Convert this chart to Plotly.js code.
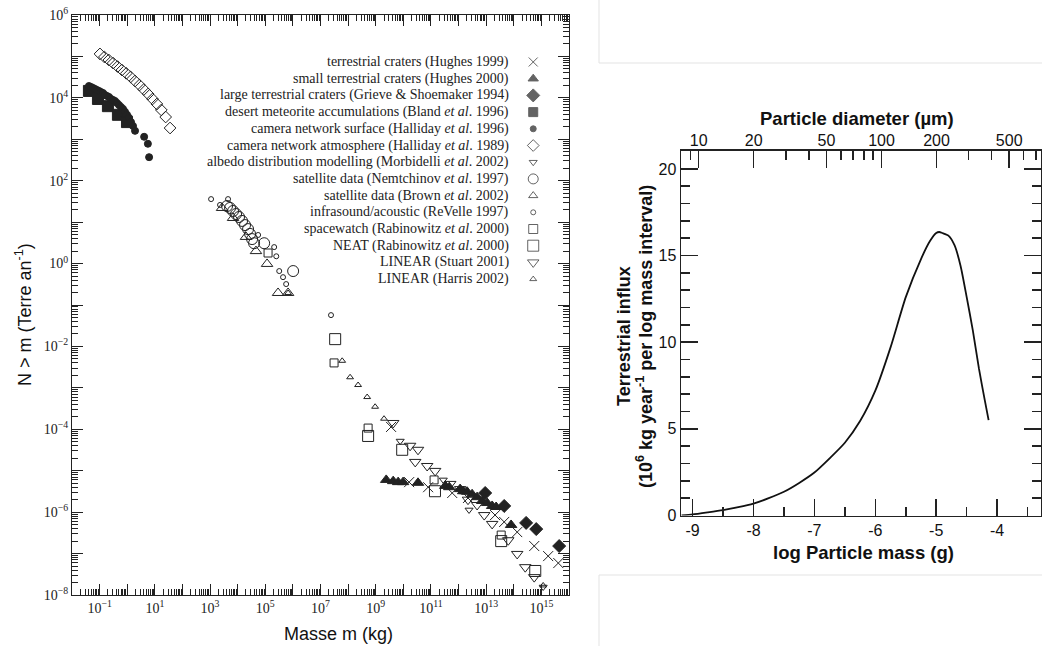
<!DOCTYPE html>
<html><head><meta charset="utf-8">
<script src="https://cdn.plot.ly/plotly-3.0.1.min.js"></script>
<style>html,body{margin:0;padding:0;background:#fff}</style>
</head><body><div id="chart" style="width:1042px;height:646px"></div>
<script>
// ---------- LEFT PANEL DATA (mass in kg, N > m per year) ----------
const hughes1999X = [3.6e9, 1.62e10, 7.9e10, 5.9e11, 2.2e12, 2.1e13, 4.5e13, 1.33e14, 5.5e14, 1.76e15, 4.1e15];
const hughes1999Y = [1.14e-4, 5.3e-6, 4.0e-6, 2.9e-6, 2.2e-6, 8.5e-7, 5.8e-7, 3.3e-7, 1.52e-7, 8.7e-8, 5.9e-8];

const hughes2000X = [2.4e9, 4.3e9, 6.5e9, 9.8e9, 3.4e10, 3.3e11, 4.6e11, 1.14e12, 1.47e12, 2.05e12, 3.1e12, 4.7e12, 7.2e12, 1.09e13, 1.65e13, 2.3e13, 8.0e13];
const hughes2000Y = [6.0e-6, 5.6e-6, 5.3e-6, 5.3e-6, 5.1e-6, 4.3e-6, 4.0e-6, 3.6e-6, 3.2e-6, 3.1e-6, 2.7e-6, 2.3e-6, 1.86e-6, 1.66e-6, 1.41e-6, 1.33e-6, 4.9e-7];

const grieveX = [9.2e12, 4.5e13, 2.8e14, 6.5e14, 4.4e15];
const grieveY = [2.9e-6, 1.41e-6, 5.5e-7, 3.9e-7, 1.52e-7];

const blandX = [0.041, 0.087, 0.20, 0.46, 0.98];
const blandY = [1.47e4, 9.4e3, 6.3e3, 3.9e3, 2.6e3];

const halliday96X = [0.041, 0.049, 0.058, 0.068, 0.080, 0.095, 0.112, 0.133, 0.157, 0.185, 0.219, 0.259, 0.306, 0.361, 0.427, 0.505, 0.596, 0.705, 0.832, 0.984, 1.16, 1.37, 1.62, 1.92, 4.1, 5.6, 6.2];
const halliday96Y = [1.93e4, 1.83e4, 1.73e4, 1.64e4, 1.55e4, 1.47e4, 1.38e4, 1.31e4, 1.17e4, 1.11e4, 1.05e4, 9.4e3, 8.9e3, 8.4e3, 7.5e3, 6.7e3, 6.0e3, 5.4e3, 4.6e3, 3.9e3, 3.3e3, 2.6e3, 2.1e3, 1.6e3, 1150, 780, 370];

const halliday89X = [0.103, 0.149, 0.215, 0.308, 0.446, 0.643, 0.927, 1.33, 1.92, 2.77, 3.99, 5.71, 8.26, 11.9, 17.2, 24.7, 35.6];
const halliday89Y = [1.15e5, 9.7e4, 8.2e4, 6.9e4, 5.7e4, 4.7e4, 3.9e4, 3.2e4, 2.55e4, 2.04e4, 1.59e4, 1.24e4, 9.4e3, 7.1e3, 5.1e3, 3.45e3, 1.87e3];

const morbidelliX = [7.7e9, 2.8e11, 2.4e12, 1.16e15];
const morbidelliY = [5.2e-5, 6.0e-6, 1.13e-6, 1.56e-8];

const nemtchinovX = [4130, 5300, 6800, 8750, 1.12e4, 1.44e4, 1.85e4, 2.38e4, 2.81e4, 3.33e4, 3.93e4, 9.1e4, 1.02e6];
const nemtchinovY = [24.5, 22, 18.6, 15.7, 13.3, 10.7, 8.5, 6.8, 5.2, 3.9, 3.1, 3.1, 0.66];

const brownX = [2720, 6800, 2.0e4, 4.6e4, 1.16e5, 2.9e5, 6.7e5];
const brownY = [22, 12.6, 4.4, 2.0, 0.98, 0.195, 0.195];

const revelleX = [1090, 4490, 2300, 5.5e4, 2.1e5, 2.5e5, 3.2e5, 4.4e5, 5.7e5, 2.4e7];
const revelleY = [36, 36, 26, 4.9, 2.5, 1.5, 0.66, 0.47, 0.32, 0.057];

const spacewatchX = [1.26e5, 3.1e7, 5.3e8, 1.3e11, 3.5e13];
const spacewatchY = [1.8, 4.0e-3, 1.07e-4, 6.0e-6, 2.8e-7];

const neatX = [3.4e7, 5.3e8, 9.1e9, 1.4e11, 3.5e13, 6.0e14];
const neatY = [1.5e-2, 6.9e-5, 3.2e-5, 3.2e-6, 2.0e-7, 3.8e-8];

const stuartX = [4.3e9, 1.76e10, 3.4e10, 2.7e10, 7.3e10, 1.42e11, 5.0e11, 1.14e12, 2.2e12, 4.7e12, 8.5e12, 1.65e13, 6.3e13, 1.33e14, 2.6e14, 5.5e14];
const stuartY = [1.42e-4, 4.0e-5, 3.2e-5, 1.63e-5, 1.30e-5, 9.9e-6, 4.8e-6, 3.6e-6, 2.0e-6, 1.49e-6, 8.5e-7, 5.2e-7, 2.1e-7, 9.8e-8, 4.7e-8, 2.7e-8];

const harrisX = [6.7e5, 6.1e7, 1.18e8, 2.3e8, 4.9e8, 9.5e8, 2.0e9, 1.16e15];
const harrisY = [0.195, 4.5e-3, 1.8e-3, 1.17e-3, 6.0e-4, 3.5e-4, 1.8e-4, 1.7e-8];

const seriesLabels = [
  "terrestrial craters (Hughes 1999)",
  "small terrestrial craters (Hughes 2000)",
  "large terrestrial craters (Grieve &amp; Shoemaker 1994)",
  "desert meteorite accumulations (Bland <i>et al</i>. 1996)",
  "camera network surface (Halliday <i>et al</i>. 1996)",
  "camera network atmosphere (Halliday <i>et al</i>. 1989)",
  "albedo distribution modelling (Morbidelli <i>et al</i>. 2002)",
  "satellite data (Nemtchinov <i>et al</i>. 1997)",
  "satellite data (Brown <i>et al</i>. 2002)",
  "infrasound/acoustic (ReVelle 1997)",
  "spacewatch (Rabinowitz <i>et al</i>. 2000)",
  "NEAT (Rabinowitz <i>et al</i>. 2000)",
  "LINEAR (Stuart 2001)",
  "LINEAR (Harris 2002)"
];
const seriesX = [hughes1999X, hughes2000X, grieveX, blandX, halliday96X, halliday89X, morbidelliX, nemtchinovX, brownX, revelleX, spacewatchX, neatX, stuartX, harrisX];
const seriesY = [hughes1999Y, hughes2000Y, grieveY, blandY, halliday96Y, halliday89Y, morbidelliY, nemtchinovY, brownY, revelleY, spacewatchY, neatY, stuartY, harrisY];

// left axis tick labels
const leftXExp = [-2,-1,0,1,2,3,4,5,6,7,8,9,10,11,12,13,14,15,16];
const leftXLabelExp = [-1,1,3,5,7,9,11,13,15];
const leftYExp = [-8,-7,-6,-5,-4,-3,-2,-1,0,1,2,3,4,5,6];
const leftYLabelExp = [-8,-6,-4,-2,0,2,4,6];

// ---------- RIGHT PANEL DATA ----------
const logMass = [-9.18,-9.0,-8.75,-8.5,-8.25,-8.0,-7.75,-7.5,-7.25,-7.0,-6.75,-6.5,-6.25,-6.0,-5.75,-5.5,-5.25,-5.1,-5.0,-4.95,-4.9,-4.8,-4.7,-4.6,-4.5,-4.4,-4.3,-4.2,-4.14];
const influx  = [0.0,0.06,0.18,0.31,0.48,0.69,1.0,1.37,1.88,2.48,3.3,4.2,5.45,7.2,9.7,12.6,14.8,15.85,16.3,16.36,16.3,16.15,15.6,14.4,12.6,10.7,8.5,6.6,5.5];
const massTicks = [-9,-8,-7,-6,-5,-4];
const massTickText = ["-9","-8","-7","-6","-5","-4"];
const diamTicks = [10,20,50,100,200,500];
const diamMinor = [9,30,40,60,70,80,90,300,400,600,700];

// ---------- STYLES ----------
const symbols = ['x-thin-open','triangle-up','diamond','square','circle','diamond-open','triangle-down-open','circle-open','triangle-up-open','circle-open','square-open','square-open','triangle-down-open','triangle-up-open'];
const sizes   = [10, 10, 10, 11, 7, 9, 7, 11, 10, 5, 8, 11, 10, 6];
const legSizes= [9, 9, 10, 9, 6, 9, 7, 10, 8, 5, 9, 11, 10, 6];
const ink = '#222';

const W = 1042, H = 646;
const L = {x0:72, x1:569, y0:15, y1:595};
const R = {x0:681, x1:1041, y0:150.7, y1:515.5};
const dx = (a,b)=>[a/W, b/W];
const dy = (top,bot)=>[(H-bot)/H, (H-top)/H];

const traces = [];
seriesX.forEach((xs, i) => {
  traces.push({
    type:'scatter', mode:'markers', x: xs, y: seriesY[i], xaxis:'x', yaxis:'y',
    name: seriesLabels[i], cliponaxis:false,
    marker:{symbol: symbols[i], size: sizes[i], color: ink, line:{width:1, color: ink}}
  });
});
// legend keys (drawn on an overlay axis, one row per series index)
traces.push({
  type:'scatter', mode:'markers', xaxis:'x3', yaxis:'y3', hoverinfo:'skip',
  x: seriesLabels.map(()=>0.928), y: seriesLabels.map((_,i)=>i),
  marker:{symbol: symbols, size: legSizes, color: ink, line:{width:1, color: ink}}
});
// right curve
traces.push({
  type:'scatter', mode:'lines', x: logMass, y: influx, xaxis:'x2', yaxis:'y2',
  line:{color:'#111', width:1.8, shape:'spline', smoothing:0.6}
});
// dummy trace to activate top diameter axis
traces.push({type:'scatter', mode:'markers', x:[diamTicks[0]], y:[0], xaxis:'x4', yaxis:'y2', marker:{opacity:0}, hoverinfo:'skip'});

function minorLog(e0, e1){ const v=[]; for(let e=e0;e<e1;e++) for(let k=2;k<=9;k++) v.push(k*Math.pow(10,e)); return v; }
const sup = e => '10<sup>' + (e<0 ? '\u2212'+(-e) : e) + '</sup>';

const serif = 'Liberation Serif, Times New Roman, serif';
const sans = 'Liberation Sans, Arial, sans-serif';

const leftCommon = {
  type:'log', showgrid:false, zeroline:false, showline:true, linecolor:ink, linewidth:1,
  mirror:'allticks', ticks:'inside', ticklen:11, tickwidth:1, tickcolor:ink,
  tickfont:{family:serif, size:14, color:ink}, tickmode:'array'
};

const layout = {
  width:W, height:H, margin:{l:0,r:0,t:0,b:0}, paper_bgcolor:'#fff', plot_bgcolor:'rgba(0,0,0,0)',
  showlegend:false, hovermode:false,
  xaxis: Object.assign({}, leftCommon, {
    domain: dx(L.x0, L.x1), range:[-2,16], anchor:'y',
    tickvals: leftXExp.map(e=>Math.pow(10,e)),
    ticktext: leftXExp.map(e=> leftXLabelExp.includes(e) ? sup(e) : ''),
    minor:{tickvals: minorLog(-2,16), ticks:'inside', ticklen:6, tickcolor:ink, tickwidth:1, showgrid:false}
  }),
  yaxis: Object.assign({}, leftCommon, {
    domain: dy(L.y0, L.y1), range:[-8,6], anchor:'x',
    tickvals: leftYExp.map(e=>Math.pow(10,e)),
    ticktext: leftYExp.map(e=> leftYLabelExp.includes(e) ? sup(e) : ''),
    minor:{tickvals: minorLog(-8,6), ticks:'inside', ticklen:6, tickcolor:ink, tickwidth:1, showgrid:false}
  }),
  xaxis3:{domain: dx(L.x0, L.x1), range:[0,1], visible:false, anchor:'y3', overlaying:'x'},
  yaxis3:{domain: dy(L.y0, L.y1), range:[31.916,-2.814], visible:false, anchor:'x3', overlaying:'y'},
  xaxis2:{
    domain: dx(R.x0, R.x1), range:[-9.19,-3.28], anchor:'y2', showgrid:false, zeroline:false,
    showline:true, linecolor:ink, linewidth:1.5, ticks:'inside', ticklen:17, tickwidth:1.5, tickcolor:ink,
    tickmode:'array', tickvals: massTicks, ticktext: massTickText,
    tickfont:{family:sans, size:16, color:'#111'},
    minor:{dtick:0.5, tick0:-9, ticks:'inside', ticklen:9, tickwidth:1.5, tickcolor:ink, showgrid:false}
  },
  yaxis2:{
    domain: dy(R.y0, R.y1), range:[0,21.05], anchor:'x2', showgrid:false, zeroline:false,
    showline:true, linecolor:ink, linewidth:1.5, mirror:'ticks', ticks:'inside', ticklen:17, tickwidth:1.5, tickcolor:ink,
    tickmode:'array', tickvals:[0,5,10,15,20],
    tickfont:{family:sans, size:16, color:'#111'},
    minor:{dtick:1, tick0:0, ticks:'inside', ticklen:9, tickwidth:1.5, tickcolor:ink, showgrid:false}
  },
  xaxis4:{
    type:'log', overlaying:'x2', side:'top', anchor:'y2', range:[0.903, 2.873],
    showgrid:false, zeroline:false, showline:true, linecolor:ink, linewidth:1.5,
    ticks:'inside', ticklen:17, tickwidth:1.5, tickcolor:ink, ticklabelstandoff:-3,
    tickmode:'array', tickvals: diamTicks, ticktext: diamTicks.map(String),
    tickfont:{family:sans, size:16, color:'#111'},
    minor:{tickvals: diamMinor, ticks:'inside', ticklen:9, tickwidth:1.5, tickcolor:ink, showgrid:false}
  },
  annotations: [],
  shapes: [
    {type:'line', xref:'paper', yref:'paper', x0:599/W, x1:599/W, y0:(H-63)/H, y1:1, line:{color:'#e3e3e3', width:1}},
    {type:'line', xref:'paper', yref:'paper', x0:599/W, x1:599/W, y0:0, y1:(H-575)/H, line:{color:'#e3e3e3', width:1}},
    {type:'line', xref:'paper', yref:'paper', x0:599/W, x1:1, y0:(H-63)/H, y1:(H-63)/H, line:{color:'#e3e3e3', width:1}},
    {type:'line', xref:'paper', yref:'paper', x0:599/W, x1:1, y0:(H-575)/H, y1:(H-575)/H, line:{color:'#e3e3e3', width:1}}
  ]
};

// legend texts
seriesLabels.forEach((t,i)=>{
  layout.annotations.push({xref:'x3', yref:'y3', x:0.8827, y:i, text:t, showarrow:false, xanchor:'right', yanchor:'middle',
    font:{family:serif, size:14, color:ink}});
});
// axis titles
const pa = (px,py)=>({x:px/W, y:(H-py)/H, xref:'paper', yref:'paper', showarrow:false, xanchor:'center', yanchor:'middle'});
layout.annotations.push(Object.assign(pa(23,315), {text:'N &gt; m (Terre an<sup>-1</sup>)', textangle:-90, font:{family:sans, size:18, color:'#111'}}));
layout.annotations.push(Object.assign(pa(338,634), {text:'Masse m (kg)', font:{family:sans, size:18, color:'#111'}}));
layout.annotations.push(Object.assign(pa(624,336), {text:'Terrestrial influx', textangle:-90, font:{family:sans, size:18, color:'#111', weight:'bold'}}));
layout.annotations.push(Object.assign(pa(644,337), {text:'(10<sup>6</sup> kg year<sup>-1</sup> per log mass interval)', textangle:-90, font:{family:sans, size:18, color:'#111', weight:'bold'}}));
layout.annotations.push(Object.assign(pa(863,552), {text:'log Particle mass (g)', font:{family:sans, size:18.5, color:'#111', weight:'bold'}}));
layout.annotations.push(Object.assign(pa(857,118), {text:'Particle diameter (\u00b5m)', font:{family:sans, size:18.5, color:'#111', weight:'bold'}}));

Plotly.newPlot('chart', traces, layout, {staticPlot:true, displayModeBar:false});
</script></body></html>
